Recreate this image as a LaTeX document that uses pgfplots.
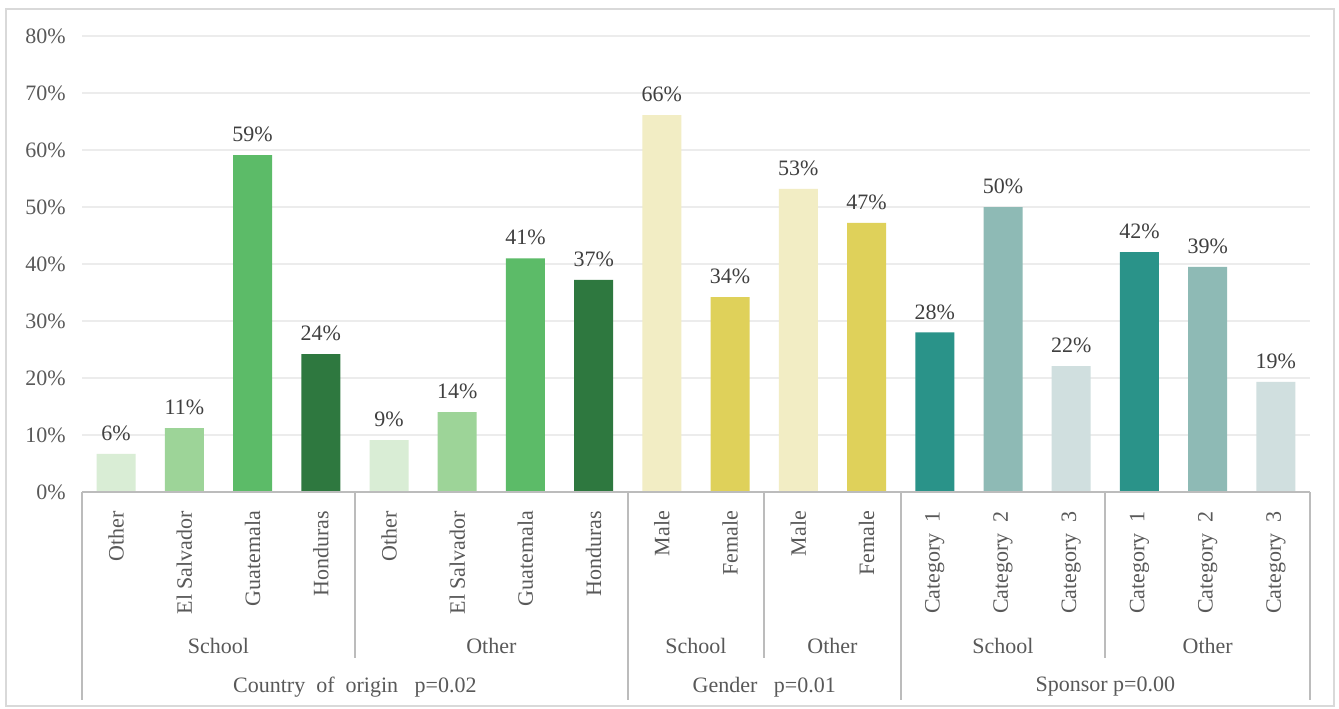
\documentclass[border=0pt]{standalone}
\usepackage{fontspec}
\setmainfont{Liberation Serif}
\usepackage{pgfplots}
\pgfplotsset{compat=1.18}
\definecolor{cOth}{HTML}{D9EDD5}
\definecolor{cSal}{HTML}{9DD498}
\definecolor{cGua}{HTML}{5CBB68}
\definecolor{cHon}{HTML}{2E783F}
\definecolor{cMal}{HTML}{F2EDC4}
\definecolor{cFem}{HTML}{DFD15A}
\definecolor{cCa1}{HTML}{2A9389}
\definecolor{cCa2}{HTML}{8EBAB5}
\definecolor{cCa3}{HTML}{D0DFDF}
\definecolor{tickc}{HTML}{595959}
\definecolor{labc}{HTML}{404040}
\definecolor{gridc}{HTML}{ECECEC}
\definecolor{sepc}{HTML}{BCBCBC}
\definecolor{framec}{HTML}{D9D9D9}
\begin{document}
\begin{tikzpicture}[font=\fontsize{11}{13}\selectfont]
\useasboundingbox (0,0) rectangle (669.5pt,354pt);
\fill[white] (0,0) rectangle (669.5pt,354pt);
\draw[framec, line width=1pt] (3pt,1pt) rectangle (667pt,349.5pt);
\begin{axis}[
  at={(41pt,108pt)}, anchor=south west,
  scale only axis, width=614pt, height=228pt,
  xmin=-0.5, xmax=17.5, ymin=0, ymax=80,
  ybar, bar width=19.5pt,
  axis line style={draw=none},
  major tick length=0pt,
  ytick={0,10,...,80},
  yticklabel={\pgfmathprintnumber{\tick}\%},
  yticklabel style={text=tickc, inner sep=0pt, xshift=-8pt},
  ymajorgrids, grid style={gridc, line width=1pt},
  xtick={0,...,17},
  xticklabels={Other, El Salvador, Guatemala, Honduras, Other, El Salvador, Guatemala, Honduras, Male, Female, Male, Female, Category~~1, Category~~2, Category~~3, Category~~1, Category~~2, Category~~3},
  xticklabel style={rotate=90, anchor=east, text=tickc},
  xticklabel shift=6pt,
  /pgf/number format/assume math mode=true,
  point meta=explicit,
  nodes near coords={\pgfmathprintnumber{\pgfplotspointmeta}\%},
  nodes near coords style={text=labc, yshift=3pt},
  clip=false,
]
\addplot[fill=cOth, draw=none, bar shift=0pt] coordinates {(0,6.7) [6] (4,9.1) [9]};
\addplot[fill=cSal, draw=none, bar shift=0pt] coordinates {(1,11.2) [11] (5,14.0) [14]};
\addplot[fill=cGua, draw=none, bar shift=0pt] coordinates {(2,59.1) [59] (6,41.0) [41]};
\addplot[fill=cHon, draw=none, bar shift=0pt] coordinates {(3,24.2) [24] (7,37.2) [37]};
\addplot[fill=cMal, draw=none, bar shift=0pt] coordinates {(8,66.1) [66] (10,53.2) [53]};
\addplot[fill=cFem, draw=none, bar shift=0pt] coordinates {(9,34.2) [34] (11,47.2) [47]};
\addplot[fill=cCa1, draw=none, bar shift=0pt] coordinates {(12,28.0) [28] (15,42.1) [42]};
\addplot[fill=cCa2, draw=none, bar shift=0pt] coordinates {(13,50.0) [50] (16,39.5) [39]};
\addplot[fill=cCa3, draw=none, bar shift=0pt] coordinates {(14,22.1) [22] (17,19.3) [19]};
% axis baseline and separators
\draw[sepc, line width=1pt] (axis cs:-0.5,0) -- (axis cs:17.5,0);
\draw[sepc, line width=1pt] (axis cs:-0.5,0) -- ([yshift=-104pt]axis cs:-0.5,0);
\draw[sepc, line width=1pt] (axis cs:7.5,0) -- ([yshift=-104pt]axis cs:7.5,0);
\draw[sepc, line width=1pt] (axis cs:11.5,0) -- ([yshift=-104pt]axis cs:11.5,0);
\draw[sepc, line width=1pt] (axis cs:17.5,0) -- ([yshift=-104pt]axis cs:17.5,0);
\draw[sepc, line width=1pt] (axis cs:3.5,0) -- ([yshift=-83pt]axis cs:3.5,0);
\draw[sepc, line width=1pt] (axis cs:9.5,0) -- ([yshift=-83pt]axis cs:9.5,0);
\draw[sepc, line width=1pt] (axis cs:14.5,0) -- ([yshift=-83pt]axis cs:14.5,0);
% group labels
\node[text=tickc] at ([yshift=-77pt]axis cs:1.5,0) {School};
\node[text=tickc] at ([yshift=-77pt]axis cs:5.5,0) {Other};
\node[text=tickc] at ([yshift=-77pt]axis cs:8.5,0) {School};
\node[text=tickc] at ([yshift=-77pt]axis cs:10.5,0) {Other};
\node[text=tickc] at ([yshift=-77pt]axis cs:13,0) {School};
\node[text=tickc] at ([yshift=-77pt]axis cs:16,0) {Other};
\node[text=tickc] at ([yshift=-97.5pt]axis cs:3.5,0) {Country~~of~~origin~~~p=0.02};
\node[text=tickc] at ([yshift=-97.5pt]axis cs:9.5,0) {Gender~~~p=0.01};
\node[text=tickc] at ([yshift=-97.5pt]axis cs:14.5,0) {Sponsor~p=0.00};
\end{axis}
\end{tikzpicture}
\end{document}
